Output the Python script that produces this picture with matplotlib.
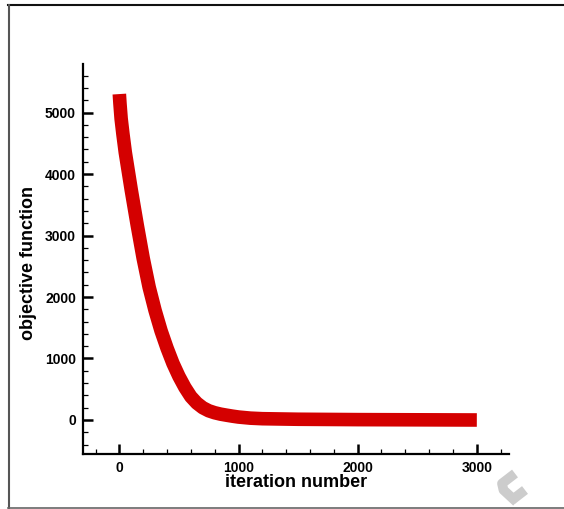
import matplotlib
matplotlib.use("Agg")
import matplotlib.pyplot as plt
from matplotlib.lines import Line2D
from matplotlib.ticker import MultipleLocator, FormatStrFormatter

plt.rcParams['font.family'] = ['Liberation Sans', 'DejaVu Sans']
plt.rcParams['font.weight'] = 'bold'

# objective function value vs. iteration
iteration = [0, 5, 15, 30, 50, 100, 150, 200, 250, 300, 350, 400, 450, 500,
             550, 600, 650, 700, 750, 800, 850, 900, 950, 1000, 1100, 1200,
             1500, 2000, 2500, 3000]
objective = [5300, 5150, 4900, 4650, 4350, 3740, 3170, 2630, 2160, 1780,
             1450, 1170, 920, 710, 530, 380, 275, 200, 150, 118, 95, 78, 62,
             48, 30, 21, 12, 6, 3, 0]

x_major = [0, 1000, 2000, 3000]
y_major = [0, 1000, 2000, 3000, 4000, 5000]

W, H, DPI = 564, 509, 100
fig = plt.figure(figsize=(W / DPI, H / DPI), dpi=DPI)
ax = fig.add_axes([83 / W, 1 - 454 / H, (509 - 83) / W, (454 - 64) / H])

ax.plot(iteration, objective, color='#d40000', lw=9.8,
        solid_capstyle='butt', solid_joinstyle='round')

ax.set_xlim(-305, 3270)
ax.set_ylim(-553, 5789)

for s in ['top', 'right']:
    ax.spines[s].set_visible(False)
for s in ['left', 'bottom']:
    ax.spines[s].set_linewidth(1.6)

ax.set_xticks(x_major)
ax.set_yticks(y_major)
ax.xaxis.set_minor_locator(MultipleLocator(200))
ax.yaxis.set_minor_locator(MultipleLocator(200))
ax.xaxis.set_major_formatter(FormatStrFormatter('%d'))
ax.yaxis.set_major_formatter(FormatStrFormatter('%d'))
ax.tick_params(which='major', direction='in', length=7.5, width=1.8,
               labelsize=10, pad=5)
ax.tick_params(which='minor', direction='in', length=3.8, width=0.9)
for lab in ax.get_xticklabels() + ax.get_yticklabels():
    lab.set_fontweight('bold')

ax.set_xlabel('iteration number', fontsize=13, fontweight='bold', labelpad=-1)
ax.set_ylabel('objective function', fontsize=13, fontweight='bold')
ax.yaxis.set_label_coords(-0.107, 0.49)

# page frame
fig.add_artist(Line2D([8 / W, 1], [1 - 5 / H, 1 - 5 / H], color='#111111',
                      lw=1.5, transform=fig.transFigure))
fig.add_artist(Line2D([8.5 / W, 8.5 / W], [1 - 5 / H, 1 - 507.5 / H],
                      color='#555555', lw=1.5, transform=fig.transFigure))
fig.add_artist(Line2D([8 / W, 1], [1 - 507.5 / H, 1 - 507.5 / H],
                      color='#666666', lw=1.2, transform=fig.transFigure))

# faint logo in the corner
logo_x = [515, 502, 503.5, 516.5]
logo_y = [473.5, 483.5, 490, 502]
fig.add_artist(Line2D([v / W for v in logo_x], [1 - v / H for v in logo_y],
                      color='#cccccc', lw=7, solid_capstyle='butt',
                      transform=fig.transFigure, zorder=0))
fig.add_artist(Line2D([512 / W, 525 / W], [1 - 500 / H, 1 - 490 / H],
                      color='#cccccc', lw=7, solid_capstyle='butt',
                      transform=fig.transFigure, zorder=0))

fig.savefig('out.png', dpi=DPI)
